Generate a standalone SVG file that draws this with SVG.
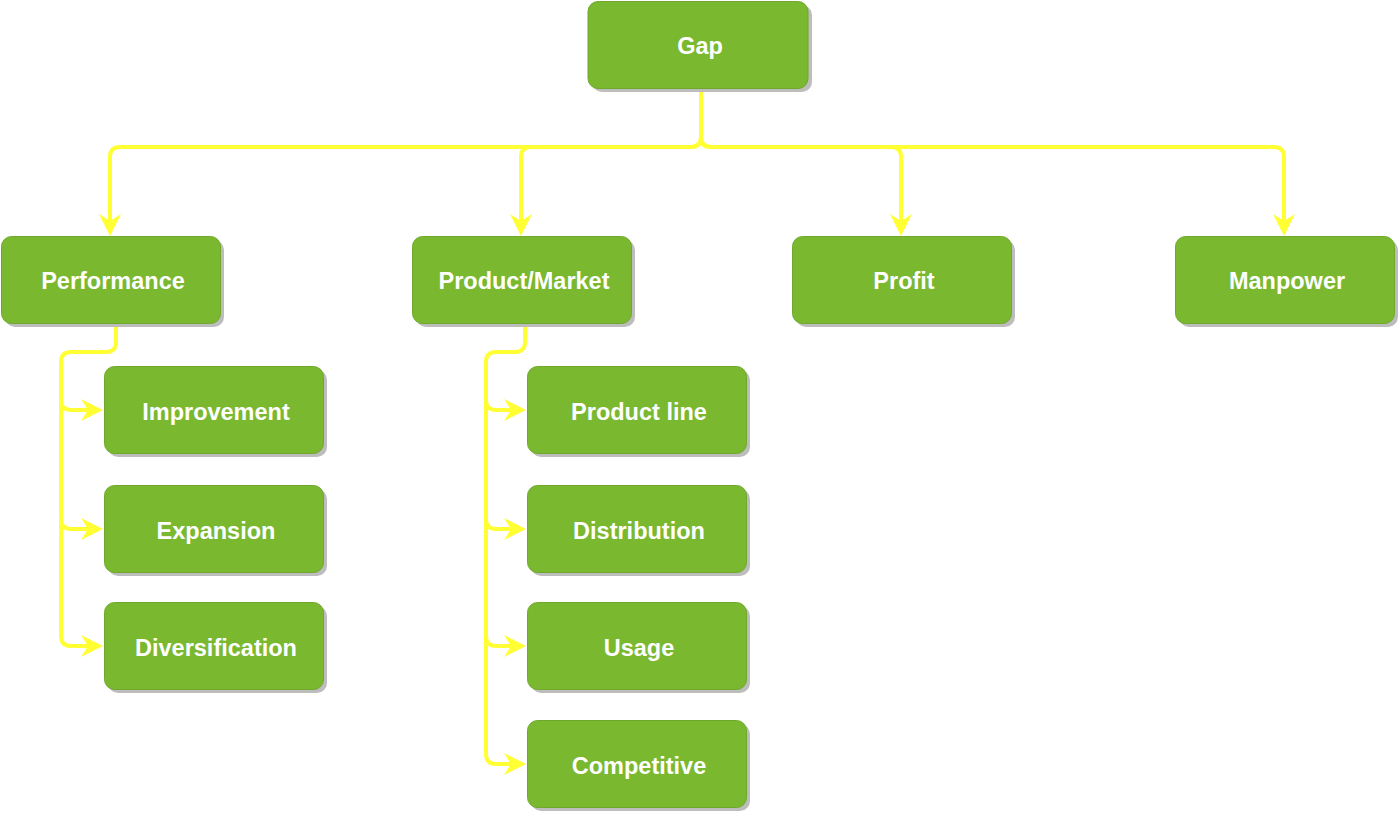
<svg xmlns="http://www.w3.org/2000/svg" xmlns:xlink="http://www.w3.org/1999/xlink" width="1400" height="816" viewBox="0 0 1400 816">
<defs>
<style>
.shadow{fill:#bdbdbd}
.box{fill:#7ab830;stroke:#6fa82a;stroke-width:1}
.lbl{font-family:"Liberation Sans",Arial,Helvetica,sans-serif;font-weight:bold;font-size:23.5px;fill:#ffffff;text-anchor:middle}
.conn{fill:none;stroke:#ffff33;stroke-width:4;stroke-linejoin:round}
.head{fill:#ffff33}
</style>
<path id="ah" d="M0,0 L-22,-11 L-15,0 L-22,11 z"/>
</defs>
<rect width="1400" height="816" fill="#ffffff"/>
<g id="connectors">
<path class="conn" d="M701,88 V137 Q701,147 691,147 H120 Q110,147 110,157 V224"/>
<path class="conn" d="M701,137 Q701,147 691,147 H531 Q521,147 521,157 V224"/>
<path class="conn" d="M701,137 Q701,147 711,147 H891 Q901,147 901,157 V224"/>
<path class="conn" d="M701,88 V137 Q701,147 711,147 H1274 Q1284,147 1284,157 V224"/>
<path class="conn" d="M116,323 V342 Q116,352 106,352 H71 Q61,352 61,362 V400 Q61,410 71,410 H90"/>
<path class="conn" d="M61,362 V519 Q61,529 71,529 H90"/>
<path class="conn" d="M61,362 V636 Q61,646 71,646 H90"/>
<path class="conn" d="M525,323 V342 Q525,352 515,352 H496 Q486,352 486,362 V400 Q486,410 496,410 H513"/>
<path class="conn" d="M486,362 V519 Q486,529 496,529 H513"/>
<path class="conn" d="M486,362 V636 Q486,646 496,646 H513"/>
<path class="conn" d="M486,362 V754 Q486,764 496,764 H513"/>
<use xlink:href="#ah" class="head" transform="translate(110,236) rotate(90)"/>
<use xlink:href="#ah" class="head" transform="translate(521,236) rotate(90)"/>
<use xlink:href="#ah" class="head" transform="translate(901,236) rotate(90)"/>
<use xlink:href="#ah" class="head" transform="translate(1284,236) rotate(90)"/>
<use xlink:href="#ah" class="head" transform="translate(103,410)"/>
<use xlink:href="#ah" class="head" transform="translate(103,529)"/>
<use xlink:href="#ah" class="head" transform="translate(103,646)"/>
<use xlink:href="#ah" class="head" transform="translate(526,410)"/>
<use xlink:href="#ah" class="head" transform="translate(526,529)"/>
<use xlink:href="#ah" class="head" transform="translate(526,646)"/>
<use xlink:href="#ah" class="head" transform="translate(526,764)"/>
</g>
<g id="gap"><rect class="shadow" x="592" y="5" width="220" height="87" rx="10"/><rect class="box" x="588" y="1.5" width="220" height="87" rx="10"/><text class="lbl" x="700" y="54">Gap</text></g>
<g id="performance"><rect class="shadow" x="5" y="240" width="219" height="87" rx="10"/><rect class="box" x="1.5" y="236.5" width="219" height="87" rx="10"/><text class="lbl" x="113" y="289">Performance</text></g>
<g id="product-market"><rect class="shadow" x="416" y="240" width="219" height="87" rx="10"/><rect class="box" x="412.5" y="236.5" width="219" height="87" rx="10"/><text class="lbl" x="524" y="289">Product/Market</text></g>
<g id="profit"><rect class="shadow" x="796" y="240" width="219" height="87" rx="10"/><rect class="box" x="792.5" y="236.5" width="219" height="87" rx="10"/><text class="lbl" x="904" y="289">Profit</text></g>
<g id="manpower"><rect class="shadow" x="1179" y="240" width="219" height="87" rx="10"/><rect class="box" x="1175.5" y="236.5" width="219" height="87" rx="10"/><text class="lbl" x="1287" y="289">Manpower</text></g>
<g id="improvement"><rect class="shadow" x="108" y="370" width="219" height="87" rx="10"/><rect class="box" x="104.5" y="366.5" width="219" height="87" rx="10"/><text class="lbl" x="216" y="420">Improvement</text></g>
<g id="expansion"><rect class="shadow" x="108" y="489" width="219" height="87" rx="10"/><rect class="box" x="104.5" y="485.5" width="219" height="87" rx="10"/><text class="lbl" x="216" y="539">Expansion</text></g>
<g id="diversification"><rect class="shadow" x="108" y="606" width="219" height="87" rx="10"/><rect class="box" x="104.5" y="602.5" width="219" height="87" rx="10"/><text class="lbl" x="216" y="656">Diversification</text></g>
<g id="product-line"><rect class="shadow" x="531" y="370" width="219" height="87" rx="10"/><rect class="box" x="527.5" y="366.5" width="219" height="87" rx="10"/><text class="lbl" x="639" y="420">Product line</text></g>
<g id="distribution"><rect class="shadow" x="531" y="489" width="219" height="87" rx="10"/><rect class="box" x="527.5" y="485.5" width="219" height="87" rx="10"/><text class="lbl" x="639" y="539">Distribution</text></g>
<g id="usage"><rect class="shadow" x="531" y="606" width="219" height="87" rx="10"/><rect class="box" x="527.5" y="602.5" width="219" height="87" rx="10"/><text class="lbl" x="639" y="656">Usage</text></g>
<g id="competitive"><rect class="shadow" x="531" y="724" width="219" height="87" rx="10"/><rect class="box" x="527.5" y="720.5" width="219" height="87" rx="10"/><text class="lbl" x="639" y="774">Competitive</text></g>
</svg>
